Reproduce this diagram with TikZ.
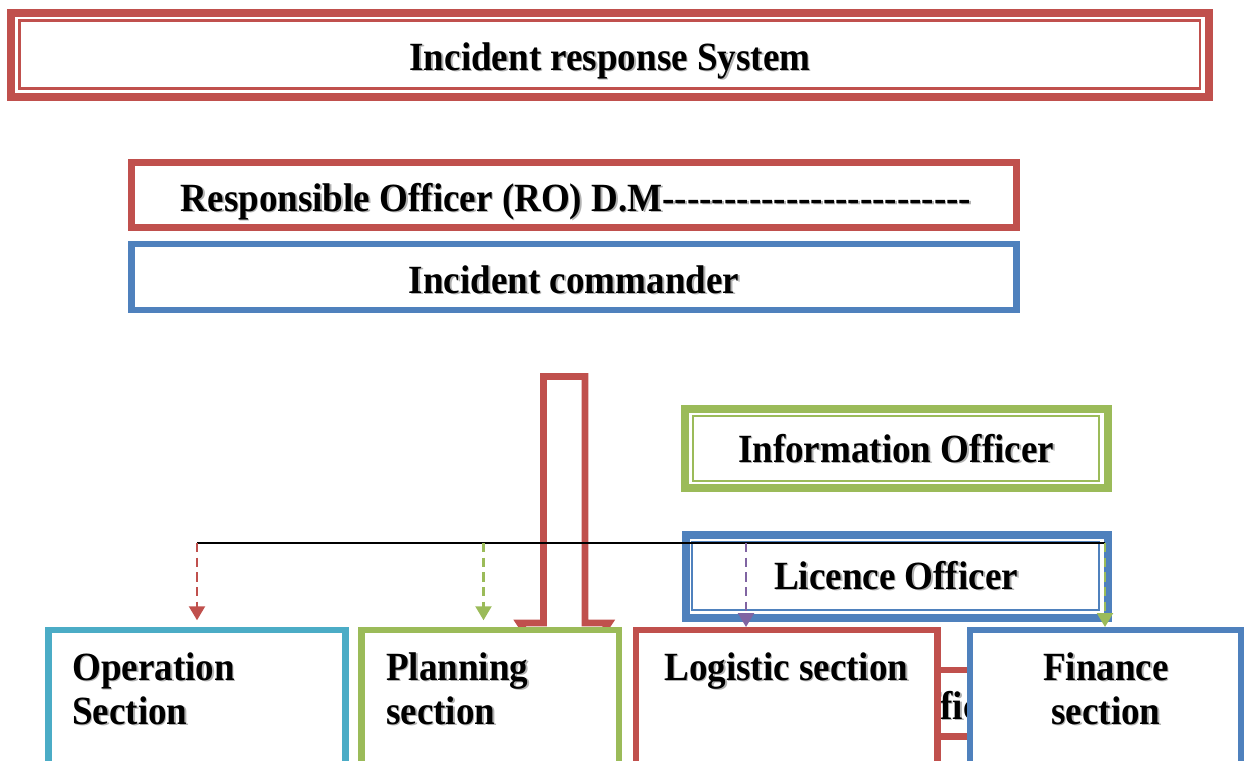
\documentclass[tikz,border=0pt]{standalone}
\usepackage{fontspec}
\setmainfont{Liberation Serif}
\usepackage{graphicx}
\usetikzlibrary{arrows.meta,calc}
\definecolor{ored}{HTML}{C0504D}
\definecolor{oblue}{HTML}{4F81BD}
\definecolor{ogreen}{HTML}{9BBB59}
\definecolor{ocyan}{HTML}{4BACC6}
\definecolor{opurple}{HTML}{8064A2}
\newcommand\shd[1]{\scalebox{1}[1.08]{\rlap{\kern1.1pt\raisebox{-1.1pt}{\textcolor{black!30}{#1}}}#1}}
\newcommand\bxfont{\fontsize{27.8}{33}\selectfont\bfseries}
\begin{document}
\begin{tikzpicture}[x=0.75pt,y=-0.75pt,
  box/.style={draw, fill=white, rectangle, inner sep=0pt, outer sep=0pt},
  heavy/.style={line width=6pt},
  mid/.style={line width=4.9pt},
  fine/.style={line width=1.9pt},
  lbl/.style={inner sep=0pt, font=\bxfont, anchor=base},
  lblw/.style={inner sep=0pt, font=\bxfont, anchor=base west},
  dasharrow/.style={line width=1.7pt, dash pattern=on 7pt off 4pt,
    -{Triangle[width=12pt,length=10.5pt]}},
  blackline/.style={line width=1.1pt, black}]
\useasboundingbox (0,0) rectangle (1244,760);
\clip (0,0) rectangle (1244,760);

% top title box
\node[box, heavy, draw=ored, minimum width=1197.5*0.75pt, minimum height=84.5*0.75pt] (tb) at (609.75,54.75) {};
\draw[fine, ored] ($(tb.north west)+(8.5,8)$) rectangle ($(tb.south east)+(-8.5,-8.5)$);
\node[lbl] (tbt) at (610,70) {\shd{Incident response System}};

% RO box
\node[box, mid, draw=ored, minimum width=885*0.75pt, minimum height=65*0.75pt] (ro) at (574,195) {};
\node[lbl] (rot) at (576,211) {\shd{Responsible Officer (RO) D.M-{}-{}-{}-{}-{}-{}-{}-{}-{}-{}-{}-{}-{}-{}-{}-{}-{}-{}-{}-{}-{}-{}-{}-{}-{}}};

% Incident commander
\node[box, mid, draw=oblue, minimum width=885*0.75pt, minimum height=66*0.75pt] (ic) at (574,277) {};
\node[lbl] (ict) at (574,293) {\shd{Incident commander}};

% Information officer
\node[box, heavy, draw=ogreen, minimum width=422.5*0.75pt, minimum height=79.5*0.75pt] (io) at (896.25,448.25) {};
\draw[fine, ogreen] ($(io.north west)+(8,7.5)$) rectangle ($(io.south east)+(-8.5,-7)$);
\node[lbl] (iot) at (896,462) {\shd{Information Officer}};

% Licence officer
\node[box, heavy, draw=oblue, minimum width=422*0.75pt, minimum height=83*0.75pt] (lo) at (896.5,576) {};
\draw[fine, oblue] ($(lo.north west)+(6.5,7.5)$) rectangle ($(lo.south east)+(-8.5,-7.5)$);
\node[lbl] (lot) at (896,589) {\shd{Licence Officer}};

% big hollow red block arrow
\draw[mid, ored, fill=white, line join=miter]
  (543.5,376.5) -- (585,376.5) -- (585,623) -- (609,623) -- (564.25,690)
  -- (519.5,623) -- (543.5,623) -- cycle;

% hidden red box behind logistic / finance
\node[box, mid, draw=ored, minimum width=300*0.75pt, minimum height=66.5*0.75pt] (hb) at (950,703.25) {};
\node[lblw] (hbt) at (899,719) {\shd{Officer}};

% bottom section boxes
\node[box, mid, draw=ocyan, minimum width=297*0.75pt, minimum height=170*0.75pt] (op) at (197,715) {};
\node[lblw] (op1) at (72,680) {\shd{Operation}};
\node[lblw] (op2) at (72,724) {\shd{Section}};

\node[box, mid, draw=ogreen, minimum width=257.5*0.75pt, minimum height=170*0.75pt] (pl) at (490.25,715) {};
\node[lblw] (pl1) at (386,680) {\shd{Planning}};
\node[lblw] (pl2) at (386,724) {\shd{section}};

\node[box, mid, draw=ored, minimum width=301.5*0.75pt, minimum height=170*0.75pt] (lg) at (786.75,715) {};
\node[lblw] (lg1) at (664,680) {\shd{Logistic section}};

\node[box, mid, draw=oblue, minimum width=271*0.75pt, minimum height=170*0.75pt] (fn) at (1105.5,715) {};
\node[lbl] (fn1) at (1106,680) {\shd{Finance}};
\node[lbl] (fn2) at (1106,724) {\shd{section}};

% distribution line and dashed arrows
\coordinate (hl) at (197,543);
\coordinate (a2) at (483.5,543);
\coordinate (a3) at (746,543);
\coordinate (hr) at (1105,543);
\draw[blackline] (hl) -- (hr);
\draw[dasharrow, ored] (hl) -- ([yshift=9.75*0.75pt]hl |- op.north);
\draw[dasharrow, ogreen] (a2) -- ([yshift=9.75*0.75pt]a2 |- pl.north);
\draw[dasharrow, opurple] (a3) -- ([yshift=3*0.75pt]a3 |- lg.north);
\draw[dasharrow, ogreen] (hr) -- ([yshift=3*0.75pt]hr |- fn.north);
\end{tikzpicture}
\end{document}
